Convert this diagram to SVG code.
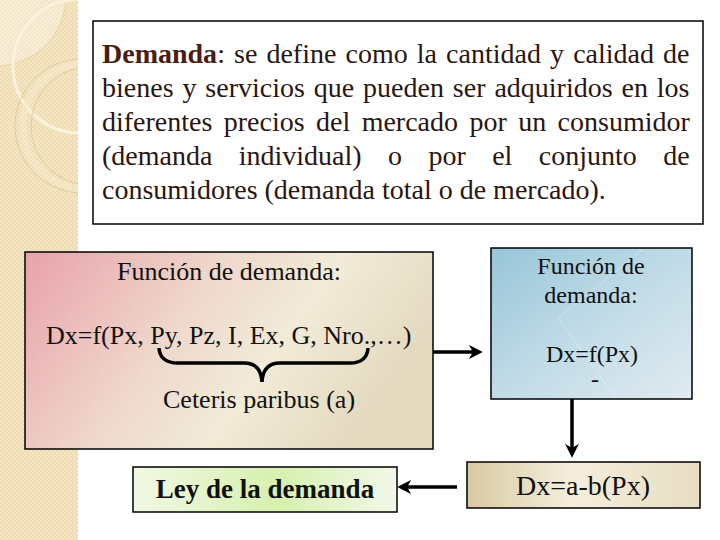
<svg xmlns="http://www.w3.org/2000/svg" width="720" height="540" viewBox="0 0 720 540">
<defs>
<pattern id="checker" width="4" height="4" patternUnits="userSpaceOnUse">
<rect width="4" height="4" fill="#eedcb2"/>
<rect width="2" height="2" fill="#f4e6c4"/>
<rect x="2" y="2" width="2" height="2" fill="#f4e6c4"/>
</pattern>
<clipPath id="stripClip"><rect x="0" y="0" width="78" height="540"/></clipPath>
<linearGradient id="gPink" x1="0" y1="0" x2="1" y2="0.35">
<stop offset="0" stop-color="#e8a2aa"/>
<stop offset="0.45" stop-color="#efd8cc"/>
<stop offset="0.7" stop-color="#f1ebd8"/>
<stop offset="1" stop-color="#e5dac0"/>
</linearGradient>
<linearGradient id="gBlue" x1="0" y1="0" x2="1" y2="1">
<stop offset="0" stop-color="#97c5d9"/>
<stop offset="0.55" stop-color="#c4dde8"/>
<stop offset="1" stop-color="#e0eaf0"/>
</linearGradient>
<linearGradient id="gBeige" x1="0" y1="0" x2="1" y2="0">
<stop offset="0" stop-color="#d7c9a2"/>
<stop offset="0.45" stop-color="#f5eedc"/>
<stop offset="1" stop-color="#e8ddc2"/>
</linearGradient>
<linearGradient id="gGreen" x1="0" y1="0" x2="1" y2="0">
<stop offset="0" stop-color="#f1f8e4"/>
<stop offset="0.55" stop-color="#d6f0ae"/>
<stop offset="1" stop-color="#f2f8ea"/>
</linearGradient>
<marker id="ah" viewBox="0 0 10 10" refX="3" refY="5" markerWidth="4" markerHeight="4" orient="auto" markerUnits="strokeWidth">
<path d="M0,0 L10,5 L0,10 L3,5 z" fill="#000"/>
</marker>
<style>
text{fill:#111;}
.def{font-size:28px;fill:#2a1510;}
.box{stroke:#000;stroke-width:1.5;}
.conn{stroke:#000;stroke-width:3.5;fill:none;marker-end:url(#ah);}
</style>
</defs>
<rect width="720" height="540" fill="#fff"/>
<g id="strip" clip-path="url(#stripClip)">
<rect x="0" y="0" width="78" height="540" fill="url(#checker)"/>
<circle cx="-4" cy="-4" r="70" fill="#fff" fill-opacity="0.3" stroke="#e2cfa0" stroke-width="0.8"/>
<circle cx="80" cy="66" r="67" fill="none" stroke="#fbf3df" stroke-width="3"/>
<circle cx="82" cy="126" r="67" fill="none" stroke="#d9c597" stroke-width="0.8"/>
<circle cx="90" cy="126" r="59" fill="none" stroke="#d9c597" stroke-width="0.8"/>
<circle cx="86" cy="126" r="63" fill="none" stroke="#f5e9cc" stroke-width="7" stroke-opacity="0.6"/>
</g>
<g font-family="Liberation Serif, Tinos, Noto Serif, DejaVu Serif, serif">
<g id="definition">
<rect class="box" x="93" y="21" width="610" height="203" fill="#fff"/>
<text class="def" x="102" y="63" word-spacing="2.1"><tspan font-weight="bold" fill="#4a1c14">Demanda</tspan>: se define como la cantidad y calidad de</text>
<text class="def" x="102" y="97" word-spacing="1.9">bienes y servicios que pueden ser adquiridos en los</text>
<text class="def" x="102" y="131" word-spacing="4.4">diferentes precios del mercado por un consumidor</text>
<text class="def" x="102" y="165" word-spacing="19.4">(demanda individual) o por el conjunto de</text>
<text class="def" x="102" y="199">consumidores (demanda total o de mercado).</text>
</g>
<g id="funcion-general">
<rect class="box" x="25" y="252" width="408" height="197" fill="url(#gPink)"/>
<text font-size="26" x="229" y="280" text-anchor="middle">Función de demanda:</text>
<text font-size="26" x="46" y="344">Dx=f(Px, Py, Pz, I, Ex, G, Nro.,…)</text>
<path d="M159,348 Q160,363 178,363 L244,363 Q261,363 262,382 Q263,363 280,363 L350,363 Q367,363 368,348" fill="none" stroke="#000" stroke-width="3.5"/>
<text font-size="26" x="163" y="408">Ceteris paribus (a)</text>
</g>
<g id="funcion-precio">
<rect class="box" x="491" y="248" width="201" height="151" fill="url(#gBlue)"/>
<path d="M642,250 L558,318 L615,397" fill="none" stroke="#fff" stroke-width="1" stroke-opacity="0.6" stroke-dasharray="2 2"/>
<text font-size="24" x="591" y="274" text-anchor="middle">Función de</text>
<text font-size="24" x="591" y="303" text-anchor="middle">demanda:</text>
<text font-size="24" x="592" y="362" text-anchor="middle">Dx=f(Px)</text>
<text font-size="24" x="595" y="387" text-anchor="middle">-</text>
</g>
<g id="funcion-lineal">
<rect class="box" x="467" y="462" width="233" height="46" fill="url(#gBeige)"/>
<text font-size="28" x="583" y="495" text-anchor="middle">Dx=a-b(Px)</text>
</g>
<g id="ley">
<rect class="box" x="133" y="467" width="264" height="45" fill="url(#gGreen)"/>
<text font-size="27" font-weight="bold" x="265" y="498" text-anchor="middle">Ley de la demanda</text>
</g>
</g>
<g id="connectors">
<path class="conn" d="M433,352 L473,352"/>
<path class="conn" d="M572,399 L572,448"/>
<path class="conn" d="M457,487 L407,487"/>
</g>
</svg>
